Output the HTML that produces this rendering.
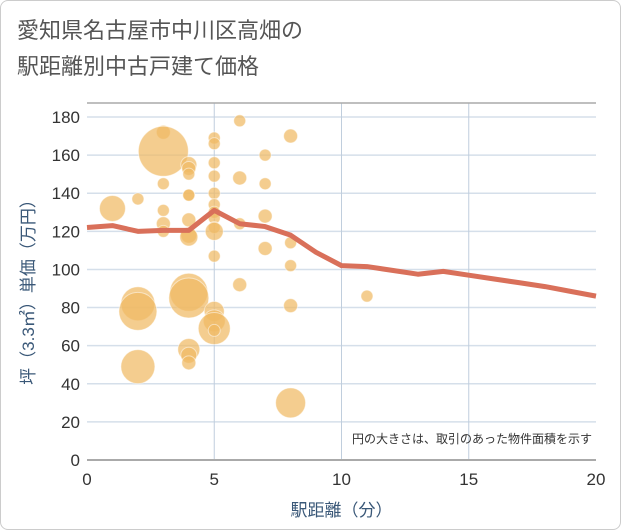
<!DOCTYPE html>
<html><head><meta charset="utf-8"><style>
body{margin:0;background:#fff;font-family:"Liberation Sans","Noto Sans CJK JP",sans-serif;}
.wrap{position:relative;width:619px;height:528px;border:1px solid #ccc;border-radius:8px;background:#fff;}
.title{position:absolute;left:16px;top:12px;font-size:22px;line-height:36px;color:#555;}
</style></head><body>
<div class="wrap">
<div class="title">愛知県名古屋市中川区高畑の<br>駅距離別中古戸建て価格</div>
<svg id="c" width="621" height="530" style="position:absolute;left:-1px;top:-1px"></svg>
</div>
<script>
const bubbleX=[1,2,2,2,2,3,3,3,3,3,3,4,4,4,4,4,4,4,4,4,4,4,4,4,5,5,5,5,5,5,5,5,5,5,5,5,5,5,5,6,6,6,6,7,7,7,7,8,8,8,8,8,11];
const bubbleY=[132,137,82,78,49,172,162,145,131,124,120,155,153,150,139,139,126,118,117,88,85,58,55,51,169,166,156,149,140,134,130,127,122,120,107,78,73,69,68,178,148,124,92,160,145,128,111,170,114,102,81,30,86];
const bubbleR=[13,6,17,19,17,7,25,6,6,7,6,8,7,6,6,6,7,8,9,19,20,11,8,7,6,6,6,6,6,6,6,6,6,9,6,10,11,16,6,6,7,6,7,6,6,7,7,7,6,6,7,15,6];
const lineX=[0,1,2,3,4,5,6,7,8,9,10,11,12,13,14,15,16,17,18,19,20];
const lineY=[122,123,120,120.5,120.5,131,124,122.5,118,109,102,101.5,99.5,97.5,99,97,95,93,91,88.5,86];
const xTicks=[0,5,10,15,20];
const yTicks=[0,20,40,60,80,100,120,140,160,180];
const L=87,R=596,T=103,B=460;
const sx=v=>L+(v/20)*(R-L);
const sy=v=>B-(v/180)*(B-117);
const svg=document.getElementById('c');
const NS='http://www.w3.org/2000/svg';
function mk(t,a,p){const e=document.createElementNS(NS,t);for(const k in a)e.setAttribute(k,a[k]);(p||svg).appendChild(e);return e;}
yTicks.forEach(v=>{
 const l=mk('line',{x1:L,x2:R,y1:sy(v),y2:sy(v),stroke:'#d5dfea','stroke-width':1.5});
 
 
 const t=mk('text',{x:80,y:sy(v)+6,'text-anchor':'end','font-size':17,fill:'#333'});
 t.textContent=v;
 
 
});
xTicks.forEach(v=>{
 if(v>0&&v<20){const l=mk('line',{x1:sx(v),x2:sx(v),y1:T,y2:B,stroke:'#c0cedd','stroke-width':1});
 
 }
 const t=mk('text',{x:sx(v),y:485,'text-anchor':'middle','font-size':17,fill:'#333'});
 t.textContent=v;
 
 
});
const topBorder=mk('line',{x1:L,x2:R,y1:T,y2:T,stroke:'#aaa','stroke-width':1.5});


const ax=mk('line',{x1:L,x2:R,y1:B,y2:B,stroke:'#aaa','stroke-width':2});


bubbleX.forEach((x,i)=>{
 const c=mk('circle',{cx:sx(x),cy:sy(bubbleY[i]),r:bubbleR[i],fill:'rgba(240,186,100,0.72)',stroke:'rgba(255,255,255,0.5)','stroke-width':1});
 
 
});
const p=mk('polyline',{points:lineX.map((x,i)=>sx(x)+','+sy(lineY[i])).join(' '),fill:'none',stroke:'#d9705a','stroke-width':5,'stroke-linejoin':'round'});


const n=mk('text',{x:592,y:443,'text-anchor':'end','font-size':12,fill:'#333'});
n.textContent='円の大きさは、取引のあった物件面積を示す';


const xt=mk('text',{x:sx(10),y:516,'text-anchor':'middle','font-size':17,fill:'#3a5878'});
xt.textContent='駅距離（分）';


const yt=mk('text',{x:0,y:0,'text-anchor':'middle','font-size':17,fill:'#3a5878',transform:'translate(34,288) rotate(-90)'});
yt.textContent='坪（3.3㎡）単価（万円）';


</script>
</body></html>
